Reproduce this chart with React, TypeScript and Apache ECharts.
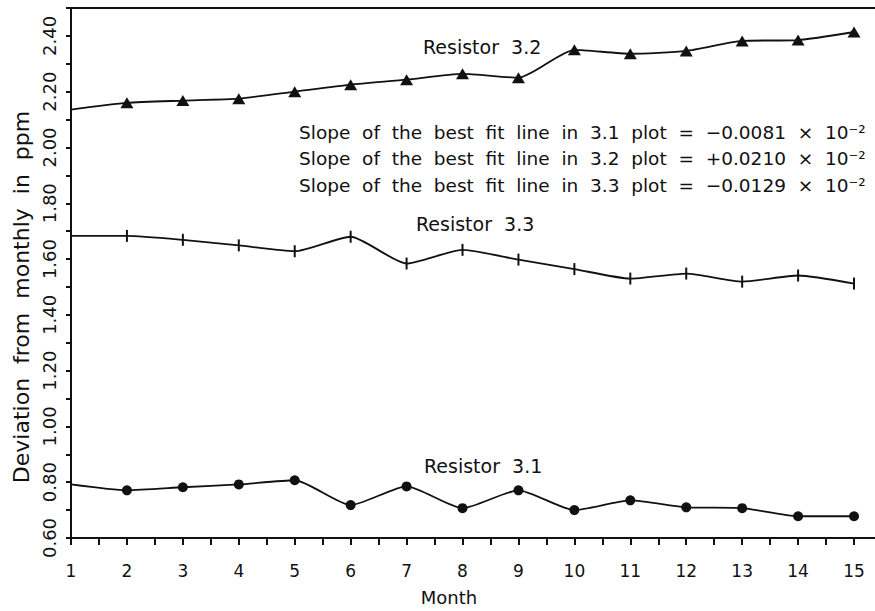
import React, { useEffect, useRef } from "react";
import * as echarts from "echarts";

const months = [1, 2, 3, 4, 5, 6, 7, 8, 9, 10, 11, 12, 13, 14, 15];
const resistor31 = [0.792, 0.771, 0.782, 0.792, 0.807, 0.718, 0.785, 0.707, 0.771, 0.7, 0.735, 0.71, 0.707, 0.678, 0.678];
const resistor32 = [2.136, 2.16, 2.168, 2.175, 2.2, 2.225, 2.243, 2.264, 2.25, 2.35, 2.336, 2.346, 2.382, 2.385, 2.414];
const resistor33 = [1.683, 1.683, 1.669, 1.649, 1.628, 1.68, 1.584, 1.633, 1.598, 1.564, 1.53, 1.548, 1.519, 1.541, 1.512];
const seriesNames = ["Resistor  3.1", "Resistor  3.2", "Resistor  3.3"];
const slopeNotes = [
  "Slope  of  the  best  fit  line  in  3.1  plot  =  \u22120.0081  \u00d7  10\u207b\u00b2",
  "Slope  of  the  best  fit  line  in  3.2  plot  =  +0.0210  \u00d7  10\u207b\u00b2",
  "Slope  of  the  best  fit  line  in  3.3  plot  =  \u22120.0129  \u00d7  10\u207b\u00b2",
];
const xTitle = "Month";
const yTitle = "Deviation  from  monthly  in  ppm";

const FONT = "'DejaVu Sans', 'Liberation Sans', sans-serif";
const INK = "#111";

function toData(vals: number[]) {
  return vals.map((v, i) => (i === 0 ? { value: [months[i], v], symbol: "none" } : [months[i], v]));
}

export default function App() {
  const ref = useRef<HTMLDivElement>(null);
  useEffect(() => {
    const chart = echarts.init(ref.current!, null, { renderer: "svg" });
    const lineStyle = { color: INK, width: 1.8 };
    chart.setOption({
      animation: false,
      backgroundColor: "#fff",
      grid: { left: 71, right: 0, top: 8, bottom: 70, containLabel: false },
      xAxis: [
        {
          type: "value",
          min: 1,
          max: 15.375,
          interval: 0.5,
          position: "bottom",
          name: xTitle,
          nameLocation: "middle",
          nameGap: 50,
          nameTextStyle: { fontSize: 18, fontFamily: FONT, color: INK, padding: [0, 48, 0, 0] },
          axisLine: { show: true, onZero: false, lineStyle: { color: INK, width: 2 } },
          axisTick: { show: true, length: 7, lineStyle: { color: INK, width: 2 } },
          axisLabel: {
            fontSize: 17,
            fontFamily: FONT,
            color: INK,
            margin: 24,
            showMaxLabel: false,
            formatter: (v: number) => (Number.isInteger(v) ? String(v) : ""),
          },
          splitLine: { show: false },
        },
        {
          type: "value",
          min: 1,
          max: 15.375,
          position: "top",
          axisLine: { show: true, onZero: false, lineStyle: { color: INK, width: 2 } },
          axisTick: { show: false },
          axisLabel: { show: false },
          splitLine: { show: false },
        },
      ],
      yAxis: {
        type: "value",
        min: 0.6,
        max: 2.5,
        interval: 0.1,
        name: yTitle,
        nameLocation: "middle",
        nameGap: 34,
        nameTextStyle: { fontSize: 22, fontFamily: FONT, color: INK, padding: [0, 48, 0, 0] },
        axisLine: { show: true, onZero: false, lineStyle: { color: INK, width: 2 } },
        axisTick: { show: true, length: 5, lineStyle: { color: INK, width: 2 } },
        axisLabel: {
          rotate: 90,
          fontSize: 18,
          fontFamily: FONT,
          color: INK,
          margin: 13,
          formatter: (v: number) => (Math.round(v * 10) % 2 === 0 ? v.toFixed(2) : ""),
        },
        splitLine: { show: false },
      },
      series: [
        {
          name: seriesNames[0],
          type: "line",
          data: toData(resistor31),
          smooth: 0.2,
          symbol: "circle",
          symbolSize: 10,
          showAllSymbol: true,
          lineStyle,
          itemStyle: { color: INK },
        },
        {
          name: seriesNames[1],
          type: "line",
          data: toData(resistor32),
          smooth: 0.2,
          symbol: "triangle",
          symbolSize: [13, 11],
          showAllSymbol: true,
          lineStyle,
          itemStyle: { color: INK },
        },
        {
          name: seriesNames[2],
          type: "line",
          data: toData(resistor33),
          smooth: 0.2,
          symbol: "rect",
          symbolSize: [2, 12],
          showAllSymbol: true,
          lineStyle,
          itemStyle: { color: INK },
        },
      ],
      graphic: [
        { type: "text", x: 423, y: 47, style: { text: seriesNames[1], font: `19px ${FONT}`, fill: INK, align: "left", verticalAlign: "middle" } },
        { type: "text", x: 416, y: 224, style: { text: seriesNames[2], font: `19px ${FONT}`, fill: INK, align: "left", verticalAlign: "middle" } },
        { type: "text", x: 424, y: 466, style: { text: seriesNames[0], font: `19px ${FONT}`, fill: INK, align: "left", verticalAlign: "middle" } },
        ...slopeNotes.map((t, i) => ({
          type: "text",
          x: 299,
          y: 132 + i * 26.5,
          style: { text: t, font: `18.5px ${FONT}`, fill: INK, align: "left", verticalAlign: "middle" },
        })),
      ],
    });
    return () => chart.dispose();
  }, []);
  return <div ref={ref} style={{ position: "absolute", left: 0, top: 0, width: 875, height: 611 }} />;
}
